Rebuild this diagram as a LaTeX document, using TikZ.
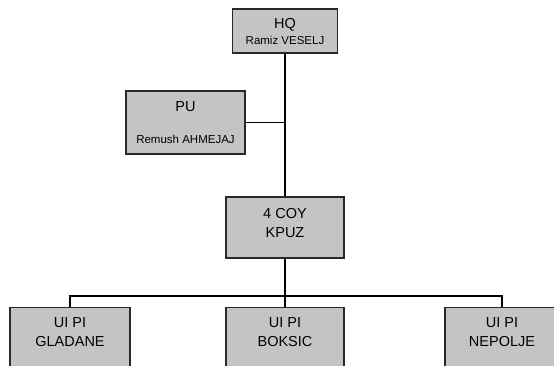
\documentclass[tikz,border=0pt]{standalone}
\usepackage{fontspec}
\setmainfont{Liberation Sans}
\definecolor{boxfill}{RGB}{196,196,196}
\definecolor{boxline}{RGB}{40,40,40}
\tikzset{
  orgbox/.style={draw=boxline, line width=1.4pt, fill=boxfill, align=center, inner sep=0pt,
    font=\fontsize{14.5}{19}\selectfont},
  link/.style={draw=black, line width=1.1pt},
}
\newcommand{\smalltxt}{\fontsize{11.5}{14}\selectfont}
\begin{document}
\begin{tikzpicture}[x=1pt,y=-1pt]
\useasboundingbox (0,0) rectangle (554,366);
\clip (0,0) rectangle (554,366);
\fill[white] (0,0) rectangle (554,366);
% nodes
\node[orgbox, minimum width=105pt, minimum height=44pt] (hq) at (285,31)
  {HQ\\[-3pt]{\smalltxt Ramiz VESELJ}};
\node[orgbox, minimum width=119pt, minimum height=63pt, font=\fontsize{14.5}{32}\selectfont] (pu) at (185.5,122.5)
  {PU\\{\smalltxt Remush AHMEJAJ}};
\node[orgbox, minimum width=118pt, minimum height=61pt, text depth=10pt] (coy) at (285,227.5)
  {4 COY\\KPUZ};
\node[orgbox, anchor=north, minimum width=120pt, inner ysep=10pt, text depth=50pt] (gla) at (70,307)
  {UI PI\\GLADANE};
\node[orgbox, anchor=north, minimum width=118pt, inner ysep=10pt, text depth=50pt] (bok) at (285,307)
  {UI PI\\BOKSIC};
\node[orgbox, anchor=north, minimum width=114pt, inner ysep=10pt, text depth=50pt] (nep) at (502,307)
  {UI PI\\NEPOLJE};
% connectors
\coordinate (bus) at (285,296);
\draw[link] (hq.south) -- (coy.north);
\draw[link] (pu.east) -- (pu.east -| hq.south);
\draw[link] (coy.south) -- (bok.north);
\draw[link] (gla.north) -- (gla.north |- bus) -- (nep.north |- bus) -- (nep.north);
\end{tikzpicture}
\end{document}
